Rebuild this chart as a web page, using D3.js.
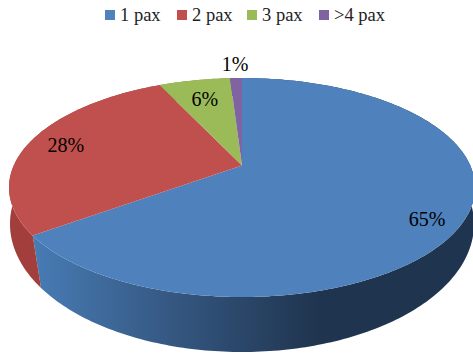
<!DOCTYPE html>
<html><head><meta charset="utf-8">
<script src="https://cdn.jsdelivr.net/npm/d3@7"></script>
<style>html,body{margin:0;padding:0;background:#fff}svg{display:block}</style>
</head><body><div id="c"></div>
<script>
const categories = ["1 pax", "2 pax", "3 pax", ">4 pax"];
const values = [65, 28, 6, 1];
const percentLabels = ["65%", "28%", "6%", "1%"];
const colors = ["#4F81BD", "#C0504D", "#9BBB59", "#8064A2"];
const sideColors = ["#4F81BD", "#A23F3C", "#7E9B45", "#66508A"];

const W = 473, H = 353;
const top3d = {cx: 242, cy: 187.5, rx: 233, ry: 109.5, a: -0.2};
const bot3d = {cx: 242, cy: 224, rx: 232, ry: 128, a: -0.125};

// perspective projection of the unit disc onto an ellipse
function project(e, angle, r = 1) {
  const u = r * Math.sin(angle), v = -r * Math.cos(angle);
  const d = 1 + e.a * v;
  return [e.cx + e.rx * u * Math.sqrt(1 - e.a * e.a) / d,
          e.cy + e.ry * (v + e.a) / d];
}
const angleStep = Math.PI / 180;
function arcPoints(e, a0, a1) {
  const n = Math.max(2, Math.ceil((a1 - a0) / angleStep));
  return d3.range(n + 1).map(i => project(e, a0 + (a1 - a0) * i / n));
}

const svg = d3.select("#c").append("svg").attr("width", W).attr("height", H);
const defs = svg.append("defs");
const grad = defs.append("linearGradient").attr("id", "blueSide")
  .attr("gradientUnits", "userSpaceOnUse")
  .attr("x1", 36).attr("x2", 320).attr("y1", 0).attr("y2", 0);
grad.append("stop").attr("offset", 0).attr("stop-color", "#477BB4");
grad.append("stop").attr("offset", 0.5).attr("stop-color", "#34567F");
grad.append("stop").attr("offset", 1).attr("stop-color", "#1F344E");

const arcs = d3.pie().sort(null)(values);
const line = d3.line();

// sides
svg.append("g").selectAll("path").data(arcs).join("path")
  .attr("d", d => line(arcPoints(top3d, d.startAngle, d.endAngle)
      .concat(arcPoints(bot3d, d.startAngle, d.endAngle).reverse())) + "Z")
  .attr("fill", (d, i) => i === 0 ? "url(#blueSide)" : sideColors[i]);

// top faces
svg.append("g").selectAll("path").data(arcs).join("path")
  .attr("d", d => line([project(top3d, 0, 0)].concat(arcPoints(top3d, d.startAngle, d.endAngle))) + "Z")
  .attr("fill", (d, i) => colors[i]);

// percent labels
const labelRadius = [0.84, 0.83, 0.75, 1.2];
const labelShift = [10, 0, 0, 0];
svg.append("g").selectAll("text").data(arcs).join("text")
  .each(function (d, i) {
    const p = project(top3d, (d.startAngle + d.endAngle) / 2, labelRadius[i]);
    d3.select(this).attr("x", p[0]).attr("y", p[1] + labelShift[i]);
  })
  .attr("text-anchor", "middle").attr("dy", "0.35em")
  .attr("font-family", "'Liberation Serif'").attr("font-size", 20).attr("fill", "#000")
  .text((d, i) => percentLabels[i]);

// legend
const legendX = d3.scaleOrdinal().domain(categories).range([105, 177, 247, 319]);
const lg = svg.append("g").selectAll("g").data(categories).join("g")
  .attr("transform", d => `translate(${legendX(d)},10)`);
lg.append("rect").attr("width", 10).attr("height", 10).attr("fill", (d, i) => colors[i]);
lg.append("text").attr("x", 15).attr("y", 5).attr("dy", "0.35em")
  .attr("font-family", "'Liberation Serif'").attr("font-size", 18.5).attr("fill", "#222")
  .text(d => d);
</script></body></html>
